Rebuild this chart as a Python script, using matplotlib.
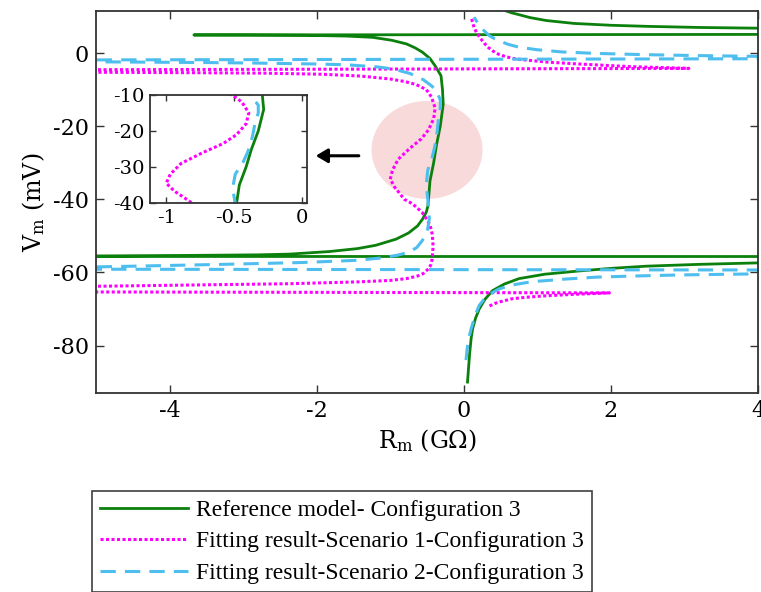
import matplotlib
matplotlib.use("Agg")
import matplotlib.pyplot as plt
from matplotlib.patches import Ellipse
from matplotlib.lines import Line2D

plt.rcParams['axes.unicode_minus'] = False
plt.rcParams['mathtext.fontset'] = 'dejavuserif'
plt.rcParams['font.family'] = 'DejaVu Serif'

# Reference model - Configuration 3  (R in GOhm, V in mV)
R_ref = [0.05, 0.065, 0.08, 0.10, 0.12, 0.16, 0.21, 0.29, 0.39, 0.55, 0.75,
         1.1, 1.57, 2.0, 2.48, 3.2, 4.0, 30.0, -30.0,
         -5.0, -3.72, -2.8, -2.37, -1.83, -1.45, -1.2, -0.92, -0.75, -0.63,
         -0.56, -0.51, -0.49, -0.48, -0.46, -0.41, -0.37, -0.32, -0.28, -0.29,
         -0.31, -0.39, -0.46, -0.56, -0.66, -0.78, -0.98, -1.24, -1.6, -2.13,
         -3.0, -3.67, 30.0,
         4.0, 3.2, 2.5, 2.0, 1.5, 1.12, 0.9, 0.75, 0.65, 0.55, 0.45]
V_ref = [-90, -86, -82, -78, -75.4, -72.5, -70, -67.3, -65, -63.2, -61.7,
         -60.5, -59.6, -58.9, -58.3, -57.8, -57.4, -55.7, -55.6,
         -55.5, -55.35, -55.2, -55.0, -54.3, -53.5, -52.6, -50.9, -49.2, -47.3,
         -45.4, -43.5, -42, -40, -35, -30, -25, -20, -14, -10,
         -6.2, -3.5, -1.5, 0.2, 1.4, 2.5, 3.5, 4.3, 4.65, 4.85,
         4.93, 4.95, 5.6,
         6.8, 7.0, 7.3, 7.6, 8.1, 8.9, 9.7, 10.5, 11.0, 11.7, 13]

# Fitting result - Scenario 1
R_s1 = [0.35, 0.42, 0.5, 0.66, 0.85, 1.12, 1.5, 1.98, -15.0,
        -5.0, -3.5, -2.37, -1.45, -1.0, -0.78, -0.63, -0.55, -0.48, -0.45,
        -0.43, -0.42, -0.42, -0.43, -0.46, -0.51, -0.57, -0.70, -0.81, -0.86,
        -0.94, -1.0, -0.97, -0.89, -0.73, -0.58, -0.48, -0.41, -0.39, -0.44,
        -0.51, -0.58, -0.65, -0.8, -1.0, -1.4, -1.92, -2.7, -3.5, -5.0, -15.0,
        3.06, 2.25, 1.57, 1.15, 0.89, 0.7, 0.57, 0.47, 0.40, 0.34, 0.30, 0.25,
        0.21, 0.17, 0.14, 0.12, 0.10]
V_s1 = [-69.2, -68.5, -68.0, -67.2, -66.8, -66.4, -66.0, -65.6, -65.0,
        -63.8, -63.4, -63.1, -62.6, -62.2, -61.7, -61.0, -60.3, -59.0, -58.0,
        -56.3, -53.5, -51.7, -49.5, -47.0, -45.3, -43.5, -41.2, -40, -38.7,
        -36.7, -34.5, -32, -29, -26, -23.5, -21, -18, -15, -12,
        -10, -9.3, -8.6, -7.8, -7.1, -6.3, -5.8, -5.5, -5.4, -5.25, -5.0,
        -4.2, -3.7, -3.0, -2.5, -2.0, -1.6, -1.0, -0.3, 0.5, 1.4, 2.2, 3.4,
        4.5, 5.7, 7.0, 8.3, 9.8]

# Fitting result - Scenario 2
R_s2 = [0.03, 0.045, 0.06, 0.08, 0.10, 0.15, 0.21, 0.27, 0.33, 0.40, 0.48,
        0.6, 0.7, 0.85, 1.02, 1.4, 1.8, 2.3, 2.93, 4.0, 15.0, -15.0,
        -5.0, -4.0, -3.27, -2.2, -1.45, -1.15, -0.9, -0.74, -0.64, -0.58,
        -0.52, -0.49, -0.47, -0.47, -0.48, -0.49, -0.51, -0.49, -0.43, -0.40,
        -0.38, -0.36, -0.345, -0.32, -0.32, -0.38, -0.45, -0.55, -0.73, -0.95,
        -1.17, -1.6, -2.0, -2.8, -3.5, -5.0, -15.0,
        15.0, 4.0, 3.2, 2.48, 1.8, 1.34, 1.0, 0.75, 0.6, 0.5, 0.42, 0.35,
        0.28, 0.22, 0.17, 0.14]
V_s2 = [-84, -81, -79, -77, -75.4, -72, -69, -67.5, -66.4, -65.4, -64.5,
        -63.8, -63.3, -62.8, -62.4, -61.8, -61.3, -61.0, -60.7, -60.4, -59.6, -58.9,
        -58.5, -58.1, -57.8, -57.3, -56.7, -56.1, -55.3, -54.4, -53.2, -51.7,
        -50, -48, -45.5, -43.5, -42, -40, -36, -32, -28.5, -26,
        -24, -21, -18, -15, -12.8, -10, -8.8, -7.3, -5.6, -4.4,
        -3.8, -3.2, -3.0, -2.75, -2.6, -2.4, -2.2,
        -1.2, -0.9, -0.7, -0.45, -0.1, 0.3, 0.9, 1.6, 2.4, 3.2, 3.9, 4.7,
        6.0, 7.5, 8.8, 9.8]

labels = ['Reference model- Configuration 3',
          'Fitting result-Scenario 1-Configuration 3',
          'Fitting result-Scenario 2-Configuration 3']

green = '#0c800c'
magenta = '#ff00ff'
cyan = '#4dbeee'
dot = (0, (1, 0.8))
dash = (0, (5, 3))

fig = plt.figure(figsize=(7.61, 5.92), dpi=100)
ax = fig.add_axes([0.1262, 0.3361, 0.8699, 0.6453])

ax.add_patch(Ellipse((-0.5, -26.5), 1.51, 26.8, facecolor='#f9dada',
                     edgecolor='none', zorder=0.5))

ax.plot(R_ref, V_ref, color=green, lw=2.0)
ax.plot(R_s1, V_s1, color=magenta, lw=2.2, linestyle=dot)
ax.plot(R_s2, V_s2, color=cyan, lw=2.2, linestyle=dash)

ax.set_xlim(-5, 4)
ax.set_ylim(-93, 11.5)
ax.set_xticks([-4, -2, 0, 2, 4])
ax.set_yticks([-80, -60, -40, -20, 0])
ax.tick_params(direction='in', top=True, right=True, length=6, width=1,
               labelsize=16, pad=5, color='#333333')
for s in ax.spines.values():
    s.set_color('#333333')
    s.set_linewidth(1.3)
ax.set_xlabel(r'R$_\mathrm{m}$ (G$\Omega$)', fontsize=17, labelpad=4)
ax.set_ylabel(r'V$_\mathrm{m}$ (mV)', fontsize=17, labelpad=4)

ax.annotate('', xy=(-2.05, -28.1), xytext=(-1.39, -28.1),
            arrowprops=dict(arrowstyle='-|>,head_length=0.5,head_width=0.3',
                            color='k', lw=2.2, mutation_scale=14))

# zoomed inset
axi = fig.add_axes([0.1971, 0.6571, 0.2063, 0.1824])
axi.plot(R_ref, V_ref, color=green, lw=2.0)
axi.plot(R_s1, V_s1, color=magenta, lw=2.2, linestyle=dot)
axi.plot(R_s2, V_s2, color=cyan, lw=2.2, linestyle=dash)
axi.set_xlim(-1.12, 0.04)
axi.set_ylim(-40, -10)
axi.set_xticks([-1, -0.5, 0])
axi.set_xticklabels(['-1', '-0.5', '0'])
axi.set_yticks([-40, -30, -20, -10])
axi.tick_params(direction='in', top=True, right=True, length=4, width=1,
                labelsize=14, pad=4, color='#333333')
for s in axi.spines.values():
    s.set_color('#333333')
    s.set_linewidth(1.3)

handles = [Line2D([], [], color=green, lw=2.0),
           Line2D([], [], color=magenta, lw=2.2, linestyle=dot),
           Line2D([], [], color=cyan, lw=2.2, linestyle=dash)]
leg = fig.legend(handles, labels, loc='upper left', bbox_to_anchor=(0.1209, 0.1706),
                 prop={'family': 'Liberation Serif', 'size': 17},
                 handlelength=3.7, handletextpad=0.35, borderaxespad=0,
                 borderpad=0.35, labelspacing=0.43, fancybox=False,
                 framealpha=1, edgecolor='#404040')
leg.get_frame().set_linewidth(1.2)

fig.savefig('out.png', dpi=100)
